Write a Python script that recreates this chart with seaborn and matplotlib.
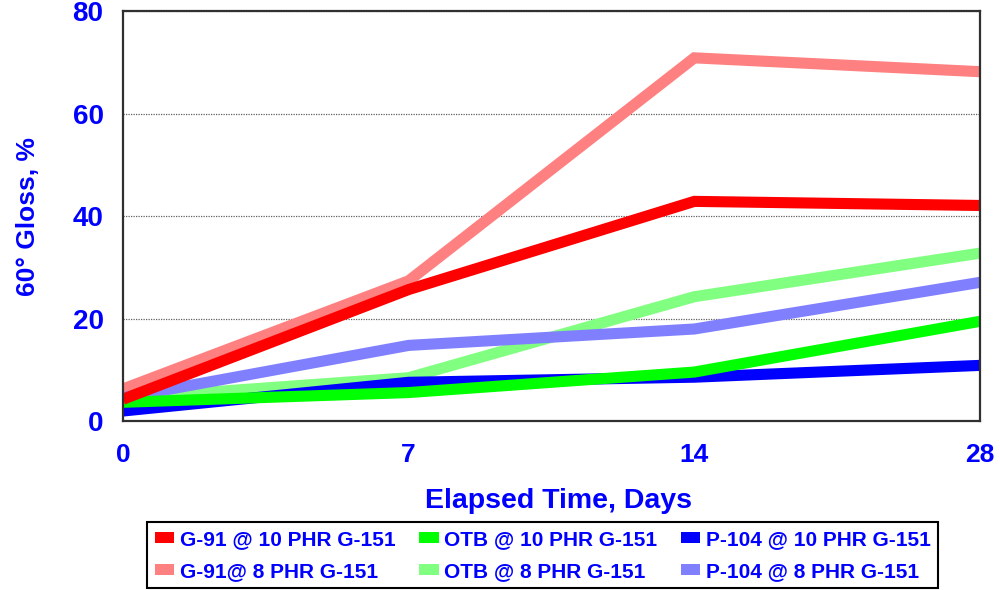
import matplotlib
matplotlib.use("Agg")
import matplotlib.pyplot as plt
import matplotlib.patches as mpatches
import seaborn as sns
import pandas as pd

# Elapsed time points (days) and 60° gloss readings for each formulation
days = [0, 7, 14, 28]
series_names = [
    "G-91 @ 10 PHR G-151",
    "G-91@ 8 PHR G-151",
    "OTB @ 10 PHR G-151",
    "OTB @ 8 PHR G-151",
    "P-104 @ 10 PHR G-151",
    "P-104 @ 8 PHR G-151",
]
g91_10 = [4.3, 25.7, 42.9, 42.1]
g91_8 = [6.3, 27.4, 70.9, 68.2]
otb_10 = [3.7, 5.6, 9.6, 19.5]
otb_8 = [4.5, 8.5, 24.3, 32.8]
p104_10 = [2.0, 7.6, 8.6, 10.9]
p104_8 = [4.6, 14.8, 18.0, 27.1]
series_values = [g91_10, g91_8, otb_10, otb_8, p104_10, p104_8]
series_colors = ["#FF0000", "#FF8080", "#00FF00", "#80FF80", "#0000FF", "#8080FF"]

# Long-form table for seaborn
rows = []
for name, vals in zip(series_names, series_values):
    for i, (d, v) in enumerate(zip(days, vals)):
        rows.append({"series": name, "pos": i, "day": d, "gloss": v})
df = pd.DataFrame(rows)

sns.set_style("white")
plt.rcParams["font.family"] = ["Liberation Sans", "DejaVu Sans"]
plt.rcParams["font.weight"] = "bold"

TEXT_BLUE = "#0000FF"

fig = plt.figure(figsize=(10, 5.9), dpi=100)
ax = fig.add_axes([0.123, 0.286, 0.857, 0.695])

# Drawing order: lighter lines underneath, darker lines on top
draw_order = [series_names[i] for i in (1, 3, 5, 4, 2, 0)]
palette = dict(zip(series_names, series_colors))
sns.lineplot(data=df, x="pos", y="gloss", hue="series", hue_order=draw_order,
             palette=palette, linewidth=8, legend=False, ax=ax,
             solid_capstyle="butt", solid_joinstyle="miter")

ax.set_xlim(0, len(days) - 1)
ax.set_ylim(0, 80)
ax.set_xticks(range(len(days)))
ax.set_xticklabels([str(d) for d in days], fontsize=19,
                   fontweight="bold", color=TEXT_BLUE)
ax.set_yticks([0, 20, 40, 60, 80])
ax.set_yticklabels(["0", "20", "40", "60", "80"], fontsize=20,
                   fontweight="bold", color=TEXT_BLUE)
ax.tick_params(axis="x", length=0, pad=16)
ax.tick_params(axis="y", length=0, pad=14)

ax.yaxis.grid(True, linestyle=(0, (1, 1)), color="#606060", linewidth=0.9)
ax.xaxis.grid(False)
for sp in ax.spines.values():
    sp.set_color("#303030")
    sp.set_linewidth(1.6)
    sp.set_visible(True)

ax.set_xlabel("Elapsed Time, Days", fontsize=20.5,
              fontweight="bold", color=TEXT_BLUE, va="center")
ax.xaxis.set_label_coords(0.508, -0.195)
ax.set_ylabel("60° Gloss, %", fontsize=19, fontweight="bold",
              color=TEXT_BLUE, va="center")
ax.yaxis.set_label_coords(-0.111, 0.5)

# Legend: row-wise reading order across three columns
handles = [mpatches.Patch(facecolor=c, edgecolor="none") for c in series_colors]
leg = fig.legend(handles, series_names, ncol=3, mode="expand",
                 loc="lower left", bbox_to_anchor=(0.147, 0.003, 0.791, 0.113),
                 prop={"size": 15, "weight": "bold"},
                 handlelength=0.95, handleheight=0.42, handletextpad=0.25,
                 labelspacing=0.62, borderpad=0.36, frameon=True, fancybox=False,
                 framealpha=1, edgecolor="black", borderaxespad=0)
leg.get_frame().set_linewidth(1.5)
for t in leg.get_texts():
    t.set_color(TEXT_BLUE)

fig.savefig("out.png", dpi=100)
